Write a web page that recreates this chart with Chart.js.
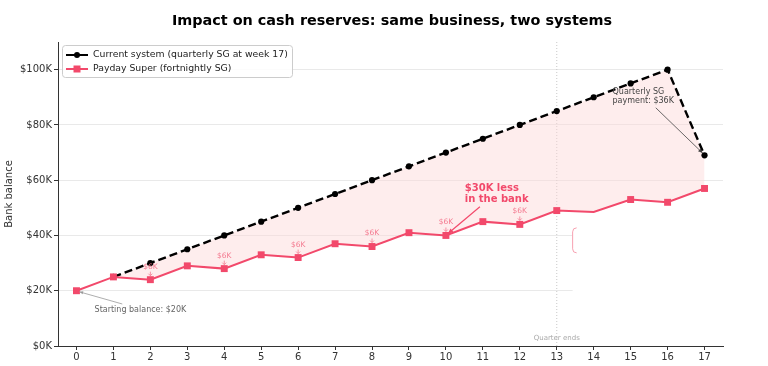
<!DOCTYPE html>
<html>
<head>
<meta charset="utf-8">
<script src="https://cdn.jsdelivr.net/npm/chart.js@4/dist/chart.umd.min.js"></script>
<style>
  html, body { margin: 0; padding: 0; background: #fff; }
  #wrap { width: 768px; height: 366px; }
</style>
</head>
<body>
<div id="wrap"><canvas id="myChart"></canvas></div>
<script>
const weeks = [0, 1, 2, 3, 4, 5, 6, 7, 8, 9, 10, 11, 12, 13, 14, 15, 16, 17];
const currentBalance = [null, 25000, 30000, 35000, 40000, 45000, 50000, 55000, 60000, 65000, 70000, 75000, 80000, 85000, 90000, 95000, 100000, 69000];
const paydayBalance = [20000, 25000, 24000, 29000, 28000, 33000, 32000, 37000, 36000, 41000, 40000, 45000, 44000, 49000, 48500, 53000, 52000, 57000];
const yTicks = [0, 20000, 40000, 60000, 80000, 100000];
const fortnightWeeks = [2, 4, 6, 8, 10, 12];
const quarterEndWeek = 13;

const RED = '#f2496b';
const FONT = '"DejaVu Sans", sans-serif';

const toPoints = vals => weeks.map((w, i) => ({ x: w, y: vals[i] }));

// everything matplotlib-ish that Chart.js doesn't do by itself
const extras = {
    id: 'extras',
    beforeDatasetsDraw(chart) {
        const { ctx, chartArea: a, scales: { x, y } } = chart;
        ctx.save();
        // quarter end marker
        const qx = x.getPixelForValue(quarterEndWeek);
        ctx.strokeStyle = '#c8c8c8';
        ctx.lineWidth = 1;
        ctx.setLineDash([1, 2]);
        ctx.beginPath();
        ctx.moveTo(qx, a.top);
        ctx.lineTo(qx, a.bottom);
        ctx.stroke();
        ctx.setLineDash([]);
        // clipped annotation box
        const bx = x.getPixelForValue(13.43), by = y.getPixelForValue(42750);
        ctx.fillStyle = '#fff';
        ctx.fillRect(bx, by, a.right - bx, y.getPixelForValue(16500) - by);
        const by2 = y.getPixelForValue(33700);
        ctx.strokeStyle = '#f7a0b0';
        ctx.beginPath();
        ctx.moveTo(bx + 4, by);
        ctx.quadraticCurveTo(bx, by, bx, by + 4);
        ctx.lineTo(bx, by2 - 4);
        ctx.quadraticCurveTo(bx, by2, bx + 4, by2);
        ctx.stroke();
        ctx.fillStyle = '#aaa';
        ctx.font = '7px ' + FONT;
        ctx.textAlign = 'center';
        ctx.textBaseline = 'middle';
        ctx.fillText('Quarter ends', qx, y.getPixelForValue(2900));
        ctx.restore();
    },
    afterDraw(chart) {
        const { ctx, chartArea: a, scales: { x, y } } = chart;
        ctx.save();
        ctx.textBaseline = 'middle';

        // title
        ctx.fillStyle = '#000';
        ctx.font = 'bold 14.4px ' + FONT;
        ctx.textAlign = 'center';
        ctx.fillText('Impact on cash reserves: same business, two systems', 392, 21);

        // y axis label
        ctx.save();
        ctx.translate(9, (a.top + a.bottom) / 2);
        ctx.rotate(-Math.PI / 2);
        ctx.font = '10px ' + FONT;
        ctx.fillStyle = '#333';
        ctx.fillText('Bank balance', 0, 0);
        ctx.restore();

        // $6K fortnightly labels
        ctx.font = '7.5px ' + FONT;
        fortnightWeeks.forEach(w => {
            const px = x.getPixelForValue(w);
            const py = y.getPixelForValue(paydayBalance[w]);
            ctx.fillStyle = '#f47a90';
            ctx.fillText('$6K', px, py - 13);
            ctx.strokeStyle = '#f47a90';
            ctx.lineWidth = 0.8;
            ctx.beginPath();
            ctx.moveTo(px, py - 8);
            ctx.lineTo(px, py - 4);
            ctx.moveTo(px - 2, py - 6);
            ctx.lineTo(px, py - 4);
            ctx.lineTo(px + 2, py - 6);
            ctx.stroke();
        });

        const arrow = (x1, y1, x2, y2, color, w, head) => {
            ctx.strokeStyle = color;
            ctx.fillStyle = color;
            ctx.lineWidth = w;
            ctx.beginPath();
            ctx.moveTo(x1, y1);
            ctx.lineTo(x2, y2);
            ctx.stroke();
            const ang = Math.atan2(y2 - y1, x2 - x1);
            ctx.beginPath();
            ctx.moveTo(x2, y2);
            ctx.lineTo(x2 - head * Math.cos(ang - 0.4), y2 - head * Math.sin(ang - 0.4));
            ctx.lineTo(x2 - head * Math.cos(ang + 0.4), y2 - head * Math.sin(ang + 0.4));
            ctx.closePath();
            ctx.fill();
        };

        // $30K less in the bank
        ctx.textAlign = 'left';
        ctx.fillStyle = RED;
        ctx.font = 'bold 10px ' + FONT;
        const tx = x.getPixelForValue(10.51);
        ctx.fillText('$30K less', tx, y.getPixelForValue(56900));
        ctx.fillText('in the bank', tx, y.getPixelForValue(52900));
        arrow(x.getPixelForValue(10.92), y.getPixelForValue(50400),
              x.getPixelForValue(10.05), y.getPixelForValue(40600), RED, 1.2, 6);

        // quarterly payment
        ctx.fillStyle = '#444';
        ctx.font = '8px ' + FONT;
        const qx = x.getPixelForValue(14.51);
        ctx.fillText('Quarterly SG', qx, y.getPixelForValue(92000));
        ctx.fillText('payment: $36K', qx, y.getPixelForValue(88700));
        arrow(x.getPixelForValue(15.68), y.getPixelForValue(86200),
              x.getPixelForValue(16.95), y.getPixelForValue(69800), '#444', 0.8, 5);

        // starting balance
        ctx.fillStyle = '#666';
        ctx.fillText('Starting balance: $20K', x.getPixelForValue(0.49), y.getPixelForValue(13000));
        arrow(x.getPixelForValue(1.24), y.getPixelForValue(15200),
              x.getPixelForValue(0.08), y.getPixelForValue(19600), '#999', 0.8, 4);

        // legend
        const lx = 62, ly = 45, lw = 230, lh = 32;
        ctx.fillStyle = 'rgba(255,255,255,0.85)';
        ctx.strokeStyle = '#ccc';
        ctx.lineWidth = 1;
        ctx.beginPath();
        ctx.roundRect(lx + 0.5, ly + 0.5, lw, lh, 3);
        ctx.fill();
        ctx.stroke();
        const items = [
            { text: 'Current system (quarterly SG at week 17)', color: '#000', shape: 'circle' },
            { text: 'Payday Super (fortnightly SG)', color: RED, shape: 'rect' }
        ];
        ctx.font = '9.3px ' + FONT;
        items.forEach((it, i) => {
            const cy = ly + 10 + i * 14;
            ctx.strokeStyle = it.color;
            ctx.fillStyle = it.color;
            ctx.lineWidth = 2;
            ctx.beginPath();
            ctx.moveTo(lx + 4, cy);
            ctx.lineTo(lx + 26, cy);
            ctx.stroke();
            ctx.beginPath();
            if (it.shape === 'circle') ctx.arc(lx + 15, cy, 3, 0, Math.PI * 2);
            else ctx.rect(lx + 11.5, cy - 3.5, 7, 7);
            ctx.fill();
            ctx.fillStyle = '#222';
            ctx.fillText(it.text, lx + 31, cy);
        });
        ctx.restore();
    }
};

const data = {
    datasets: [{
        label: 'Current system (quarterly SG at week 17)',
        data: toPoints(currentBalance),
        borderColor: '#000',
        backgroundColor: 'rgba(252, 215, 215, 0.45)',
        pointBackgroundColor: '#000',
        pointBorderColor: '#000',
        pointRadius: 3.1,
        pointBorderWidth: 0,
        borderWidth: 2.4,
        borderDash: [8, 4],
        fill: 1,
        order: 2
    }, {
        label: 'Payday Super (fortnightly SG)',
        data: toPoints(paydayBalance),
        borderColor: RED,
        backgroundColor: RED,
        pointStyle: 'rect',
        pointRadius: ctx => ctx.dataIndex === 14 ? 0 : 4.9,
        pointBorderWidth: 0,
        borderWidth: 2,
        fill: false,
        order: 1
    }]
};

const config = {
    type: 'line',
    data: data,
    options: {
        responsive: true,
        maintainAspectRatio: false,
        animation: false,
        layout: { padding: { top: 42, right: 45, left: 0, bottom: 0 } },
        plugins: {
            legend: { display: false },
            tooltip: { enabled: false }
        },
        scales: {
            x: {
                type: 'linear',
                min: -0.5,
                max: 17.5,
                afterFit: s => { s.height = 20; },
                afterBuildTicks: s => { s.ticks = weeks.map(w => ({ value: w })); },
                ticks: { color: '#333', font: { family: FONT, size: 10 }, padding: 1, autoSkip: false, maxRotation: 0 },
                grid: { drawOnChartArea: false, tickLength: 4, tickColor: '#333' },
                border: { color: '#333' }
            },
            y: {
                min: 0,
                max: 110000,
                afterFit: s => { s.width = 58; },
                afterBuildTicks: s => { s.ticks = yTicks.map(v => ({ value: v })); },
                ticks: {
                    color: '#333',
                    font: { family: FONT, size: 10 },
                    padding: 2,
                    callback: v => '$' + v / 1000 + 'K'
                },
                grid: { color: '#e9e9e9', tickLength: 4, tickColor: '#333' },
                border: { color: '#333' }
            }
        }
    },
    plugins: [extras]
};

new Chart(document.getElementById('myChart'), config);
</script>
</body>
</html>
